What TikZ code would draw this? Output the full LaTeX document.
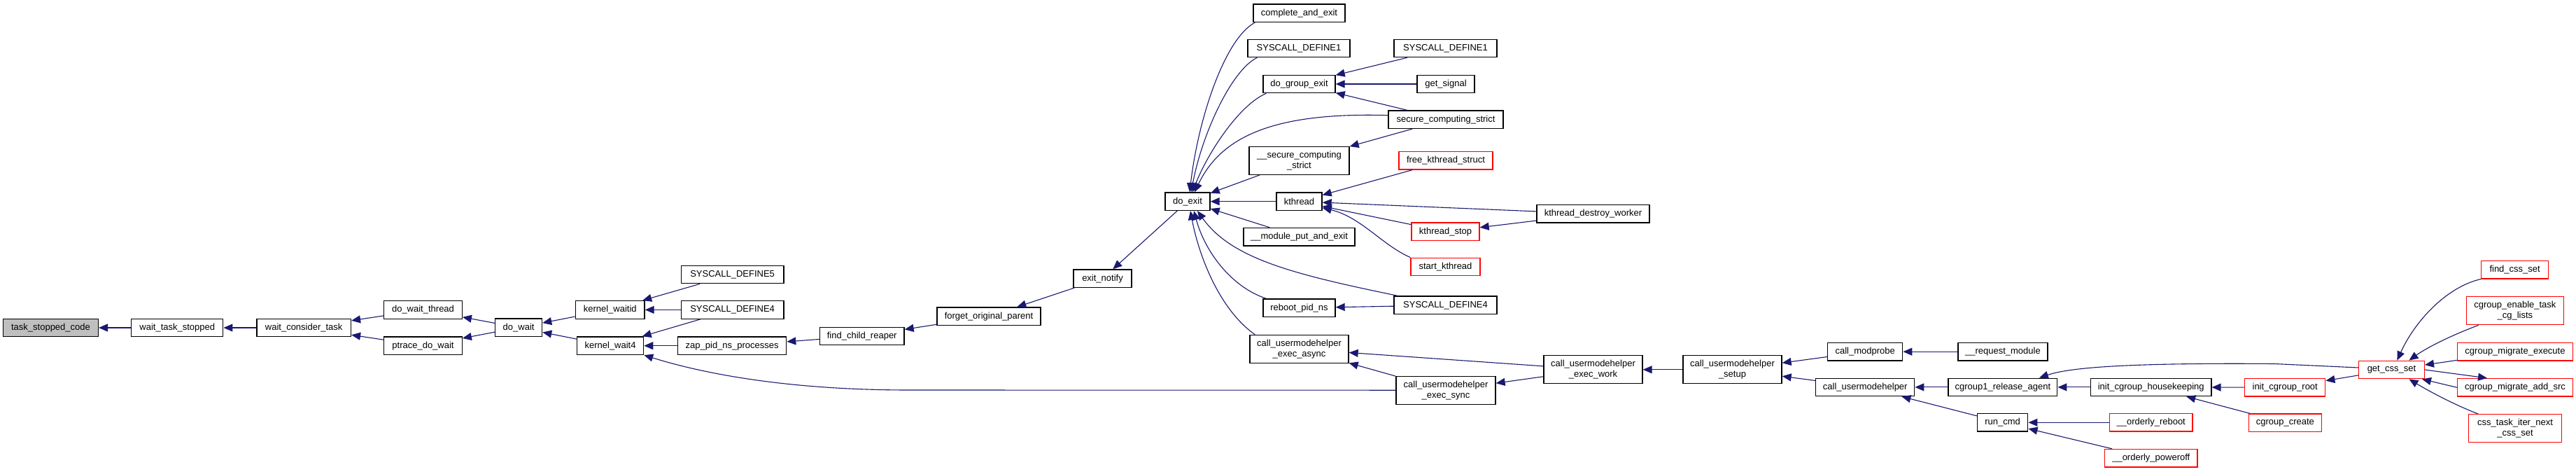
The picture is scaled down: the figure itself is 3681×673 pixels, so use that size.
\documentclass[tikz,border=0pt]{standalone}
\usepackage{fontspec}
\setmainfont{Liberation Sans}
\usetikzlibrary{arrows.meta}
\definecolor{edgeblue}{HTML}{191970}
\definecolor{rootgrey}{HTML}{BFBFBF}
\begin{document}
\begin{tikzpicture}[x=1pt,y=-1pt,
  box/.style={draw=black, line width=1.3pt, fill=white, inner sep=0pt, minimum height=25.5pt, font=\fontsize{13}{15}\selectfont, text=black},
  box2/.style={box, minimum height=40pt, align=center},
  redbox/.style={box, draw=red},
  redbox2/.style={box2, draw=red},
  rootbox/.style={box, fill=rootgrey},
  edge/.style={draw=edgeblue, line width=1.1pt, -{Triangle[length=13pt,width=11pt]}},
]
\useasboundingbox (0,0) rectangle (3681,673);

% nodes
\node[rootbox, minimum width=135.7pt] (tsc) at (72.5,468) {task\_stopped\_code};
\node[box, minimum width=131pt] (wts) at (253.3,468) {wait\_task\_stopped};
\node[box, minimum width=134.5pt] (wct) at (434.2,468) {wait\_consider\_task};
\node[box, minimum width=111.5pt] (dwt) at (604.5,442.4) {do\_wait\_thread};
\node[box, minimum width=111.5pt] (pdw) at (604.5,493.7) {ptrace\_do\_wait};
\node[box, minimum width=67pt] (dw) at (741.1,467.7) {do\_wait};
\node[box, minimum width=98.7pt] (kwi) at (871.7,442.4) {kernel\_waitid};
\node[box, minimum width=95pt] (kw4) at (872.1,493.7) {kernel\_wait4};
\node[box, minimum width=146.8pt] (sd5) at (1046.6,392) {SYSCALL\_DEFINE5};
\node[box, minimum width=146.8pt] (sd4a) at (1046.6,442.4) {SYSCALL\_DEFINE4};
\node[box, minimum width=155pt] (zap) at (1046.2,493.7) {zap\_pid\_ns\_processes};
\node[box, minimum width=120.6pt] (fcr) at (1231.7,479.9) {find\_child\_reaper};
\node[box, minimum width=148pt] (fop) at (1413,451.7) {forget\_original\_parent};
\node[box, minimum width=83pt] (en) at (1575.5,397.7) {exit\_notify};
\node[box, minimum width=64pt] (dex) at (1697,287.7) {do\_exit};
\node[box, minimum width=131pt] (cae) at (1856.5,18.7) {complete\_and\_exit};
\node[box, minimum width=146pt] (sd1a) at (1856,68.9) {SYSCALL\_DEFINE1};
\node[box, minimum width=103pt] (dge) at (1856.5,120) {do\_group\_exit};
\node[box2, minimum width=143pt] (sec2) at (1856.5,229.2) {\_\_secure\_computing\\\_strict};
\node[box, minimum width=65pt] (kth) at (1856.5,287.7) {kthread};
\node[box, minimum width=159pt] (mpe) at (1856.5,338.2) {\_\_module\_put\_and\_exit};
\node[box, minimum width=103pt] (rpn) at (1856.5,439.7) {reboot\_pid\_ns};
\node[box2, minimum width=141pt] (cuea) at (1856.5,498.5) {call\_usermodehelper\\\_exec\_async};
\node[box, minimum width=147pt] (sd1b) at (2065.5,68.9) {SYSCALL\_DEFINE1};
\node[box, minimum width=82pt] (gsig) at (2066,120) {get\_signal};
\node[box, minimum width=164pt] (scs) at (2066,170.7) {secure\_computing\_strict};
\node[redbox, minimum width=134pt] (fks) at (2066,229.3) {free\_kthread\_struct};
\node[box, minimum width=161pt] (kdw) at (2276.5,305.3) {kthread\_destroy\_worker};
\node[redbox, minimum width=97pt] (kst) at (2065.5,330.7) {kthread\_stop};
\node[redbox, minimum width=99pt] (skt) at (2065.5,381) {start\_kthread};
\node[box, minimum width=147pt] (sd4b) at (2065.5,435.8) {SYSCALL\_DEFINE4};
\node[box2, minimum width=142pt] (cues) at (2066,557.2) {call\_usermodehelper\\\_exec\_sync};
\node[box2, minimum width=141pt] (cuew) at (2276.5,527.8) {call\_usermodehelper\\\_exec\_work};
\node[box2, minimum width=141pt] (cus) at (2475.5,527.8) {call\_usermodehelper\\\_setup};
\node[box, minimum width=107pt] (cmp) at (2665.2,502.2) {call\_modprobe};
\node[box, minimum width=128pt] (rqm) at (2861.9,502.2) {\_\_request\_module};
\node[box, minimum width=141pt] (cuh) at (2665.2,552.9) {call\_usermodehelper};
\node[box, minimum width=155.7pt] (cra) at (2861.9,552.9) {cgroup1\_release\_agent};
\node[box, minimum width=172.3pt] (ich) at (3073.7,552.9) {init\_cgroup\_housekeeping};
\node[redbox, minimum width=115pt] (icr) at (3265.2,553.3) {init\_cgroup\_root};
\node[box, minimum width=72.4pt] (rcmd) at (2861.6,603.3) {run\_cmd};
\node[redbox, minimum width=118.7pt] (orb) at (3073.7,603.3) {\_\_orderly\_reboot};
\node[redbox, minimum width=132.4pt] (opo) at (3073.8,654.2) {\_\_orderly\_poweroff};
\node[redbox, minimum width=104pt] (ccr) at (3265.3,603.7) {cgroup\_create};
\node[redbox, minimum width=93.8pt] (gcs) at (3417.4,528) {get\_css\_set};
\node[redbox, minimum width=96.2pt] (fcs) at (3593.6,385.2) {find\_css\_set};
\node[redbox2, minimum width=139pt] (cetcl) at (3593.9,443.7) {cgroup\_enable\_task\\\_cg\_lists};
\node[redbox, minimum width=164.7pt] (cme) at (3594,502.3) {cgroup\_migrate\_execute};
\node[redbox, minimum width=164.7pt] (cmas) at (3594,553.3) {cgroup\_migrate\_add\_src};
\node[redbox2, minimum width=132.5pt] (ctincs) at (3594,611.7) {css\_task\_iter\_next\\\_css\_set};

% edges (caller -> callee)
\draw[edge] (wts) -- (tsc);
\draw[edge] (wct) -- (wts);
\draw[edge] (dwt) -- (wct);
\draw[edge] (pdw) -- (wct);
\draw[edge] (dw) -- (dwt);
\draw[edge] (dw) -- (pdw);
\draw[edge] (kwi) -- (dw);
\draw[edge] (kw4) -- (dw);
\draw[edge] (sd5) -- (kwi);
\draw[edge] (sd4a) -- (kwi);
\draw[edge] (sd4a) -- (kw4);
\draw[edge] (zap) -- (kw4);
\draw[edge] (cues.west) -- (1300,557) .. controls (1120,557) and (1000,532) .. (kw4.south east);
\draw[edge] (fcr) -- (zap);
\draw[edge] (fop) -- (fcr);
\draw[edge] (en) -- (fop);
\draw[edge] (dex) -- (en);

\draw[edge] ([xshift=3pt]cae.south west) .. controls (1750,55) and (1712,170) .. ([xshift=3pt]dex.north);
\draw[edge] ([xshift=14pt]sd1a.south west) .. controls (1760,100) and (1718,190) .. ([xshift=5pt]dex.north);
\draw[edge] ([xshift=5pt]dge.south west) .. controls (1770,150) and (1725,220) .. ([xshift=7pt]dex.north);
\draw[edge] ([yshift=6pt]scs.west) .. controls (1820,160) and (1745,195) .. ([xshift=10pt]dex.north);
\draw[edge] (sec2) -- (dex);
\draw[edge] (kth) -- (dex);
\draw[edge] (mpe) -- (dex);
\draw[edge] ([xshift=6pt]sd4b.north west) .. controls (1850,392) and (1760,370) .. ([xshift=14pt]dex.south);
\draw[edge] ([xshift=5pt]rpn.north west) .. controls (1760,410) and (1722,360) .. ([xshift=9pt]dex.south);
\draw[edge] ([xshift=8pt]cuea.north west) .. controls (1740,440) and (1712,360) .. ([xshift=4pt]dex.south);

\draw[edge] (sd1b) -- (dge);
\draw[edge] (gsig) -- (dge);
\draw[edge] (scs) -- (dge);
\draw[edge] (scs) -- (sec2);
\draw[edge] (fks) -- (kth);
\draw[edge] (kdw) -- (kth);
\draw[edge] (kst) -- (kth);
\draw[edge] (skt.north west) .. controls (1975,350) and (1945,310) .. ([yshift=-9pt]kth.east);
\draw[edge] (kdw) -- (kst);
\draw[edge] (sd4b) -- (rpn);
\draw[edge] (cuew) -- (cuea);
\draw[edge] (cues) -- (cuea);
\draw[edge] (cuew) -- (cues);
\draw[edge] (cus) -- (cuew);
\draw[edge] (cmp) -- (cus);
\draw[edge] (cuh) -- (cus);
\draw[edge] (rqm) -- (cmp);
\draw[edge] (cra) -- (cuh);
\draw[edge] (rcmd) -- (cuh);
\draw[edge] (ich) -- (cra);
\draw[edge] ([yshift=3pt]gcs.west) -- (3250,519.5) .. controls (3050,518) and (2960,524) .. ([xshift=52pt]cra.north);
\draw[edge] (icr) -- (ich);
\draw[edge] (ccr) -- (ich);
\draw[edge] (gcs) -- (icr);
\draw[edge] (orb) -- (rcmd);
\draw[edge] (opo) -- (rcmd);

\draw[edge] (fcs.south west) .. controls (3495,410) and (3450,460) .. ([xshift=8pt]gcs.north);
\draw[edge] ([xshift=18pt]cetcl.south west) .. controls (3505,478) and (3470,495) .. ([xshift=25pt]gcs.north);
\draw[edge] (cme) -- (gcs);
\draw[edge] (cmas.west) -- ([xshift=-4pt]gcs.south east);
\draw[edge] (gcs.east) -- ([xshift=-40pt]cmas.north);
\draw[edge] ([xshift=14pt]ctincs.north west) .. controls (3505,577) and (3470,558) .. ([xshift=25pt]gcs.south);
\end{tikzpicture}
\end{document}
